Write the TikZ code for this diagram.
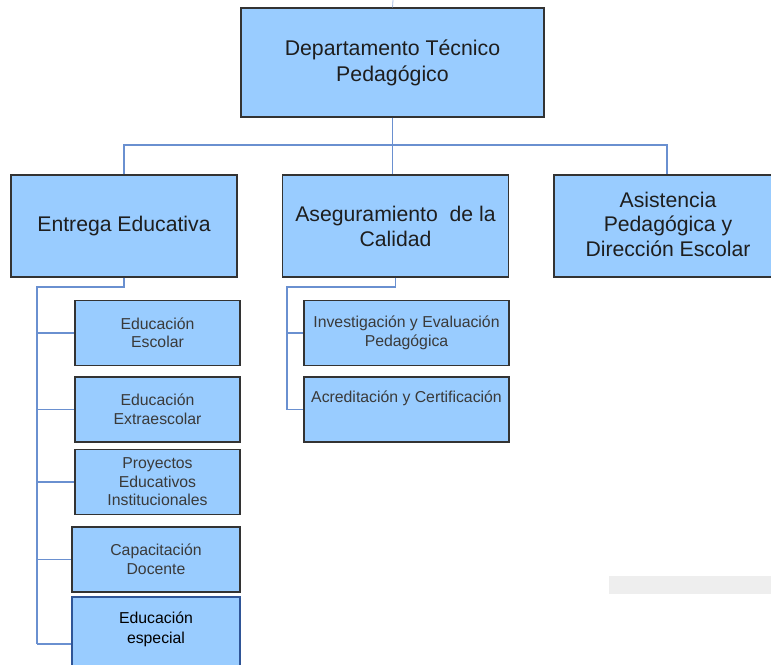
\documentclass[tikz,border=0pt]{standalone}
\usepackage{fontspec}
\setmainfont{Liberation Sans}
\definecolor{boxfill}{HTML}{99CCFF}
\definecolor{boxline}{HTML}{333333}
\definecolor{conn}{HTML}{6A90D0}
\definecolor{txtdark}{HTML}{1E1E1E}
\definecolor{txtgrey}{HTML}{3A3A3A}
\definecolor{spline}{HTML}{2F5597}
\begin{document}
\begin{tikzpicture}[x=1pt,y=-1pt,
  unit/.style={draw=boxline,fill=boxfill,line width=1.2pt,inner sep=0pt,align=center,anchor=center},
  bigbox/.style={unit,minimum width=226pt,minimum height=102pt,text=txtdark,font=\fontsize{21.2}{25}\selectfont},
  smallbox/.style={unit,minimum height=65pt,text=txtgrey,font=\fontsize{15.8}{18.5}\selectfont},
  wire/.style={draw=conn,line width=1.4pt}]
\clip (0,0) rectangle (771,664);
\fill[white] (0,0) rectangle (771,664);
% gray bar
\fill[fill={rgb,255:red,238;green,238;blue,238}] (609,576) rectangle (771,594);
% top
\node[unit,minimum width=303pt,minimum height=109pt,text=txtdark,font=\fontsize{21.3}{26}\selectfont] (top) at (392.5,62.5) {Departamento Técnico\\Pedagógico};
\coordinate (topin) at (393,0);
\draw[wire,line width=0.8pt,draw=conn!60] (topin) -- (top.north);
% level 2
\node[bigbox] (ent) at (124,226) {Entrega Educativa};
\node[bigbox] (ase) at (395.5,226) {Aseguramiento\ \ de la\\Calidad};
\node[bigbox] (asi) at (667,226) {};
\node[text=txtdark,font=\fontsize{21.2}{24.5}\selectfont,align=center] (asit) at (668,224) {Asistencia\\Pedagógica y\\Dirección Escolar};
% left children
\node[smallbox,minimum width=165pt] (c1) at (157.5,333) {Educación\\Escolar};
\node[smallbox,minimum width=165pt] (c2) at (157.5,409.5) {Educación\\Extraescolar};
\node[smallbox,minimum width=165pt] (c3) at (157.5,482) {Proyectos\\Educativos\\Institucionales};
\node[smallbox,minimum width=168pt] (c4) at (156,559.5) {Capacitación\\Docente};
\node[unit,draw=spline,line width=1.8pt,minimum width=168pt,minimum height=70pt,text=black,font=\fontsize{15.8}{20}\selectfont] (c5) at (156,632) {};
\node[text=black,font=\fontsize{15.8}{20}\selectfont,align=center] (c5t) at (156,629) {Educación\\especial};
% middle children
\node[smallbox,minimum width=205pt] (m1) at (406.5,333) {Investigación y Evaluación\\Pedagógica};
\node[smallbox,minimum width=205pt] (m2) at (406.5,409.5) {};
\node[text=txtgrey,font=\fontsize{15.8}{18.5}\selectfont] (m2t) at (406.5,398) {Acreditación y Certificación};
% connectors top level
\draw[wire] (top.south) -- (top.south |- ase.north);
\coordinate (hbar) at (0,145);
\draw[wire,line width=1.1pt] (ent.north) -- (ent.north |- hbar) -- (asi.north |- hbar) -- (asi.north);
% left bus
\coordinate (busL) at (37,287);
\coordinate (busLend) at (37,644);
\draw[wire] (ent.south) -- (ent.south |- busL) -- (busL) -- (busLend);
\draw[wire] (busL |- c1.west) -- (c1.west);
\draw[wire] (busL |- c2.west) -- (c2.west);
\draw[wire] (busL |- c3.west) -- (c3.west);
\draw[wire] (busL |- c4.west) -- (c4.west);
\draw[wire] (busLend) -- (busLend -| c5.west);
% middle bus
\coordinate (busM) at (287,287);
\draw[wire] (ase.south) -- (ase.south |- busM) -- (busM) -- (busM |- m2.west) -- (m2.west);
\draw[wire] (busM |- m1.west) -- (m1.west);
\end{tikzpicture}
\end{document}
